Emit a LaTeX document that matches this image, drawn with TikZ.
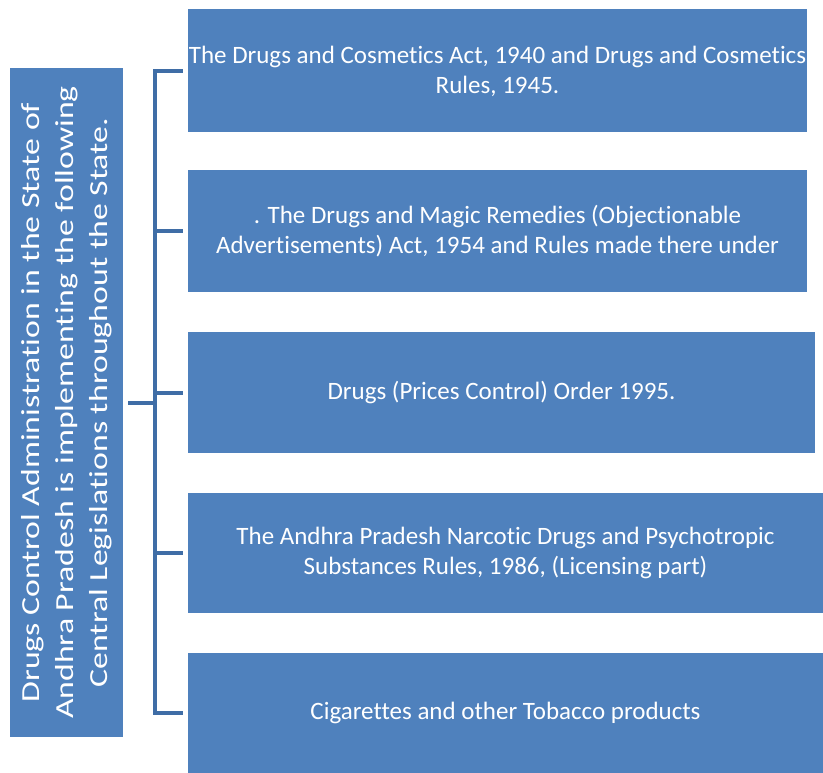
\documentclass[tikz,border=0pt]{standalone}
\usepackage{fontspec}
\setmainfont{Carlito}[Ligatures=NoCommon]
\definecolor{boxblue}{HTML}{4F81BD}
\definecolor{linkblue}{HTML}{3F6DA6}
\begin{document}
\begin{tikzpicture}[x=1pt,y=-1pt,
  lawbox/.style={fill=boxblue, draw=none, text=white, align=center,
    font=\fontsize{25}{30}\selectfont, inner sep=0pt},
  srcbox/.style={fill=boxblue, draw=none, text=white, inner sep=0pt},
  link/.style={draw=linkblue, line width=4pt, line join=miter, line cap=butt}]
\useasboundingbox (0,0) rectangle (823,773);

% five legislation boxes
\node[lawbox, minimum width=619pt, minimum height=123pt] (b1) at (497.5,71)
  {The Drugs and Cosmetics Act, 1940 and Drugs and Cosmetics\\Rules, 1945.};
\node[lawbox, minimum width=619pt, minimum height=122pt] (b2) at (497.5,231)
  {. The Drugs and Magic Remedies (Objectionable\\Advertisements) Act, 1954 and Rules made there under};
\node[lawbox, minimum width=627pt, minimum height=121pt] (b3) at (501.5,392.5)
  {Drugs (Prices Control) Order 1995.};
\node[lawbox, minimum width=635pt, minimum height=120pt] (b4) at (505.5,553)
  {The Andhra Pradesh Narcotic Drugs and Psychotropic\\Substances Rules, 1986, (Licensing part)};
\node[lawbox, minimum width=635pt, minimum height=120pt] (b5) at (505.5,713)
  {Cigarettes and other Tobacco products};

% administration box with vertical, widely set text
\node[srcbox, minimum width=113pt, minimum height=669pt] (src) at (66.5,402.5)
  {\rotatebox{90}{\scalebox{1.3}[1]{\fontsize{26}{34}\selectfont\begin{tabular}{@{}c@{}}
   Drugs Control Administration in the State of\\
   Andhra Pradesh is implementing the following\\
   Central Legislations throughout the State.\end{tabular}}}};

% bracket joining the source to every box
\coordinate (k1) at ([xshift=-5pt]b1.west);
\coordinate (k2) at ([xshift=-5pt]b2.west);
\coordinate (k3) at ([xshift=-5pt]b3.west);
\coordinate (k4) at ([xshift=-5pt]b4.west);
\coordinate (k5) at ([xshift=-5pt]b5.west);
\coordinate (s0) at ([xshift=5pt]src.east);
\coordinate (j1) at (155,0 |- k1);
\coordinate (j5) at (155,0 |- k5);
\draw[link] (k1) -- (j1) -- (j5) -- (k5);
\draw[link] (k2) -- (j1 |- k2);
\draw[link] (k3) -- (j1 |- k3);
\draw[link] (k4) -- (j1 |- k4);
\draw[link] (s0) -- (j1 |- s0);
\end{tikzpicture}
\end{document}
